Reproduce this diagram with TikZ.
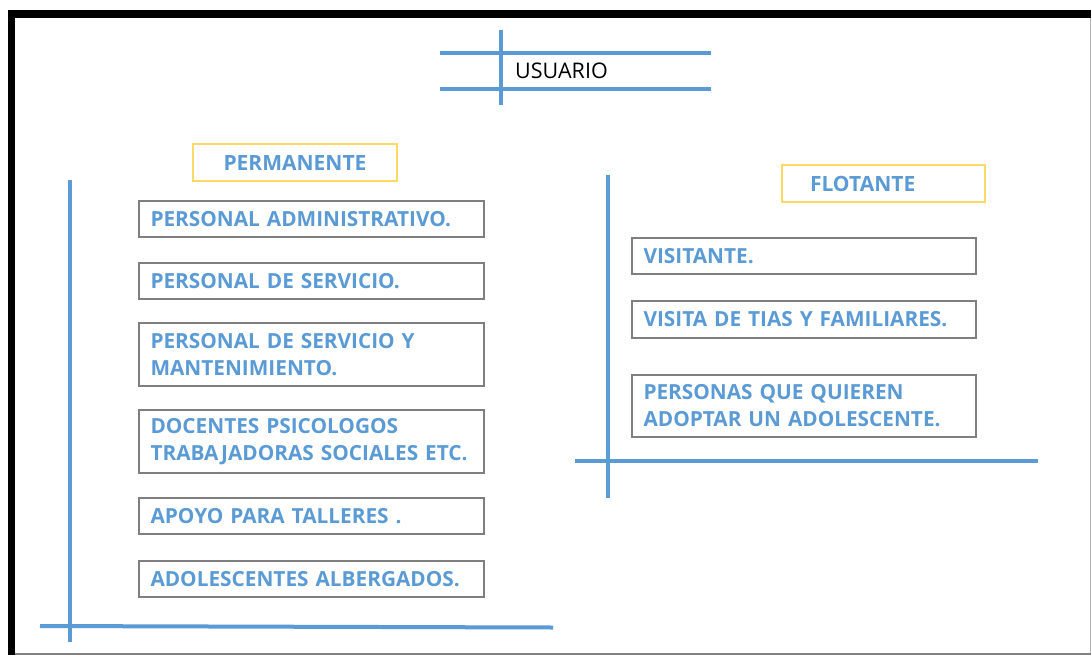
\documentclass[tikz,border=0pt]{standalone}
\usepackage{fontspec}
\setmainfont{Open Sans}
\definecolor{lblue}{HTML}{5B9BD5}
\definecolor{bgrey}{HTML}{7F7F7F}
\definecolor{ylw}{HTML}{FFD966}
\begin{document}
\begin{tikzpicture}[x=1pt,y=-1pt,
  bline/.style={draw=lblue,line width=4pt},
  itembox/.style={draw=bgrey,line width=2.8pt,anchor=north west,outer sep=0pt,minimum width=345pt,
    text width=322pt,inner xsep=11.5pt,inner ysep=0pt,align=left,text=lblue,
    font=\fontsize{20.8}{27}\selectfont\bfseries},
  catbox/.style={draw=ylw,line width=2.5pt,anchor=north west,outer sep=0pt,minimum height=37pt,inner sep=0pt,
    text=lblue,font=\fontsize{21}{27}\selectfont\bfseries}]
\useasboundingbox (0,0) rectangle (1091,655);
\fill[white] (0,0) rectangle (1091,655);
% frame
\draw[black,line width=8pt] (8,14) -- (1091,14);
\draw[black,line width=7pt] (11.5,10) -- (11.5,655);
\draw[gray!60,line width=1pt] (1090,18) -- (1090,655);
\draw[gray,line width=1.5pt] (15,654) -- (1091,654);
% USUARIO
\draw[bline] (440,53) -- (711,53);
\draw[bline] (440,89) -- (711,89);
\draw[bline] (501,30) -- (501,105);
\node[anchor=west,font=\fontsize{21.5}{25}\selectfont,inner sep=0pt] (usuario) at (515,71) {USUARIO};
% left group
\node[catbox,minimum width=204pt] (perm) at (193,144) {PERMANENTE};
\draw[bline] (70,180) -- (70,642);
\draw[bline] (40,626) -- (553,627.5);
\node[itembox,minimum height=36pt] (a1) at (139,201) {PERSONAL ADMINISTRATIVO.};
\node[itembox,minimum height=36pt] (a2) at (139,263) {PERSONAL DE SERVICIO.};
\node[itembox,minimum height=63pt] (a3) at (139,323) {PERSONAL DE SERVICIO Y\\MANTENIMIENTO.};
\node[itembox,minimum height=63pt] (a4) at (139,410) {DOCENTES PSICOLOGOS\\TRABAJADORAS SOCIALES ETC.};
\node[itembox,minimum height=36pt] (a5) at (139,498) {APOYO PARA TALLERES .};
\node[itembox,minimum height=36pt] (a6) at (139,561) {ADOLESCENTES ALBERGADOS.};
% right group
\node[catbox,minimum width=203pt,text width=203pt,align=left,inner xsep=0pt] (flot) at (782,165) {\hspace*{28pt}FLOTANTE};
\draw[bline] (608,175) -- (608,498);
\draw[bline] (575,461) -- (1038,461);
\node[itembox,minimum width=344pt,text width=321pt,minimum height=36pt] (b1) at (632,238) {VISITANTE.};
\node[itembox,minimum width=344pt,text width=321pt,minimum height=37pt] (b2) at (632,301) {VISITA DE TIAS Y FAMILIARES.};
\node[itembox,minimum width=344pt,text width=321pt,minimum height=62pt] (b3) at (632,375) {PERSONAS QUE QUIEREN\\ADOPTAR UN ADOLESCENTE.};
\end{tikzpicture}
\end{document}
